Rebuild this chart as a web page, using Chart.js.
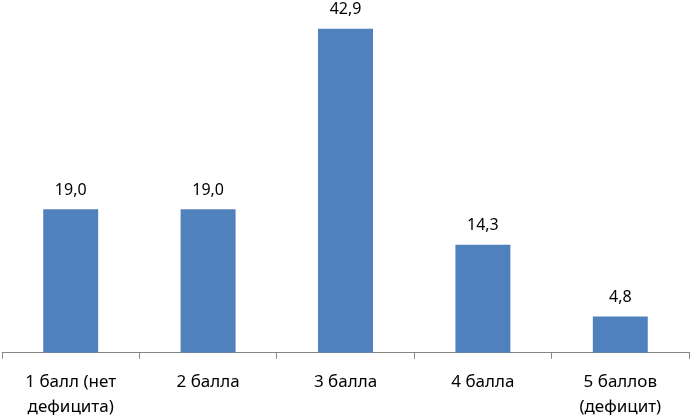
<!DOCTYPE html>
<html>
<head>
<meta charset="utf-8">
<script src="https://cdn.jsdelivr.net/npm/chart.js@4/dist/chart.umd.min.js"></script>
<style>
  html, body { margin: 0; padding: 0; background: #fff; }
  #wrap { width: 690px; height: 415px; }
</style>
</head>
<body>
<div id="wrap"><canvas id="myChart"></canvas></div>
<script>
const categories = [
    ['1 балл (нет', 'дефицита)'],
    '2 балла',
    '3 балла',
    '4 балла',
    ['5 баллов', '(дефицит)']
];
const values = [19.0, 19.0, 42.9, 14.3, 4.8];

// value labels above each bar, with a comma as decimal separator
const valueLabels = {
    id: 'valueLabels',
    afterDatasetsDraw(chart) {
        const ctx = chart.ctx;
        const meta = chart.getDatasetMeta(0);
        ctx.save();
        ctx.font = '16px "Noto Sans", sans-serif';
        ctx.fillStyle = '#000';
        ctx.textAlign = 'center';
        ctx.textBaseline = 'bottom';
        meta.data.forEach((bar, i) => {
            const txt = values[i].toFixed(1).replace('.', ',');
            ctx.fillText(txt, bar.x, bar.y - 11);
        });
        ctx.restore();
    }
};

const data = {
    labels: categories,
    datasets: [{
        data: values,
        backgroundColor: '#4F81BD',
        barPercentage: 0.4,
        categoryPercentage: 1.0
    }]
};

const config = {
    type: 'bar',
    data: data,
    options: {
        responsive: true,
        maintainAspectRatio: false,
        animation: false,
        layout: { padding: { left: 2, right: 1, top: 13, bottom: -15 } },
        plugins: {
            legend: { display: false },
            tooltip: { enabled: false }
        },
        scales: {
            x: {
                grid: {
                    offset: true,
                    drawOnChartArea: false,
                    drawTicks: true,
                    tickLength: 6,
                    color: '#868686'
                },
                border: { display: true, color: '#868686' },
                ticks: {
                    color: '#000',
                    font: { family: '"Noto Sans", sans-serif', size: 17, lineHeight: 1.45 },
                    padding: 11,
                    maxRotation: 0,
                    autoSkip: false
                }
            },
            y: {
                display: false,
                min: 0,
                max: 45
            }
        }
    },
    plugins: [valueLabels]
};

const myChart = new Chart(document.getElementById('myChart'), config);
</script>
</body>
</html>
